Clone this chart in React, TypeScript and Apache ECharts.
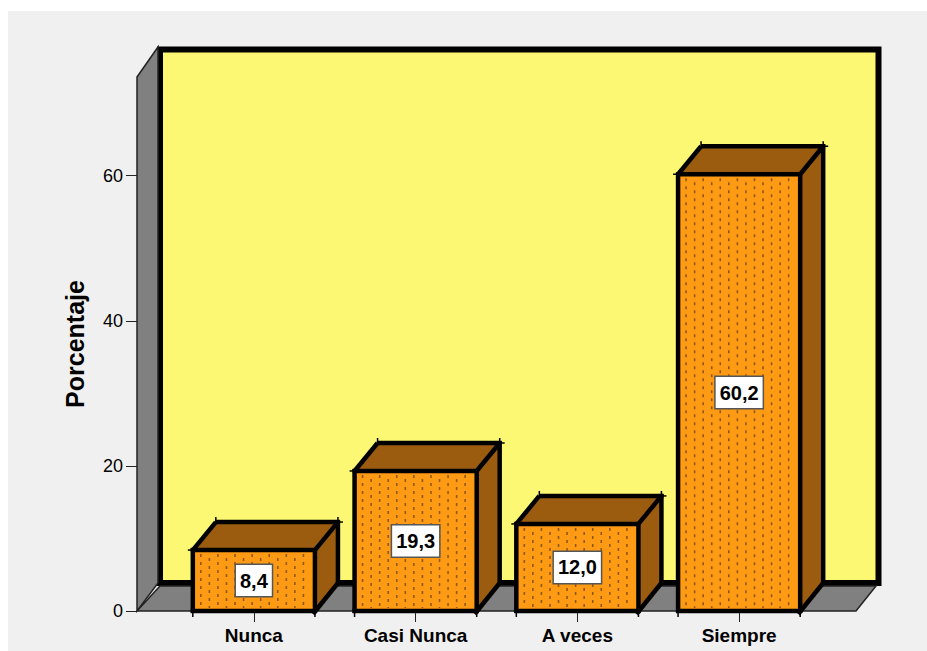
import React, { useEffect, useRef } from "react";
import * as echarts from "echarts";

const categories = ["Nunca", "Casi Nunca", "A veces", "Siempre"];
const porcentajes = [8.4, 19.3, 12.0, 60.2];
const yTicks = [0, 20, 40, 60];
const yAxisTitle = "Porcentaje";

const INK = "#000000";
const ORANGE = "#ff9a14";
const BROWN = "#9b5c10";
const DOT = "#8f5a14";
const YELLOW = "#fdf873";
const WALL = "#808080";
const PANEL = "#f0f0f0";
const DEPTH_X = 23;
const DEPTH_Y = -28;

function renderBar(_params: any, api: any) {
  const idx = api.value(0);
  const val = api.value(1);
  const [cx, yTop] = api.coord([idx, val]);
  const [, yBase] = api.coord([idx, 0]);
  const w = api.size([1, 0])[0] * 0.755;
  const x0 = cx - w / 2;
  const x1 = cx + w / 2;
  const dx = DEPTH_X;
  const dy = DEPTH_Y;
  const children: any[] = [
    { type: "rect", shape: { x: x0, y: yTop, width: w, height: yBase - yTop }, style: { fill: ORANGE } },
    { type: "polygon", shape: { points: [[x0, yTop], [x0 + dx, yTop + dy], [x1 + dx, yTop + dy], [x1, yTop]] }, style: { fill: BROWN } },
    { type: "polygon", shape: { points: [[x1, yTop], [x1 + dx, yTop + dy], [x1 + dx, yBase + dy], [x1, yBase]] }, style: { fill: BROWN } },
  ];
  // stippled texture: staggered columns of short dashes
  let col = 0;
  for (let x = x0 + 8; x < x1 - 3; x += 8.55) {
    children.push({
      type: "line",
      shape: { x1: x, y1: yTop + 4 + (col % 2 ? 4 : 0), x2: x, y2: yBase - 3 },
      style: { stroke: DOT, lineWidth: 1.6, lineDash: [3, 5] },
    });
    col++;
  }
  const edges: number[][] = [
    [x0, yTop - 2, x0, yBase + 2],
    [x1, yTop, x1, yBase + 2],
    [x0 - 2, yBase, x1 + 2, yBase],
    [x0 - 2, yTop, x1, yTop],
    [x0, yTop, x0 + dx, yTop + dy],
    [x1, yTop, x1 + dx, yTop + dy],
    [x0 + dx, yTop + dy, x1 + dx + 2, yTop + dy],
    [x1 + dx, yTop + dy - 2, x1 + dx, yBase + dy + 1],
    [x1 - 2, yBase + 3, x1 + dx, yBase + dy],
  ];
  edges.forEach(([a, b, c, d]) =>
    children.push({ type: "line", shape: { x1: a, y1: b, x2: c, y2: d }, style: { stroke: INK, lineWidth: 4.5 } })
  );
  // thin spikes where the outline's edges overshoot their corners
  const spikes: number[][] = [
    [x0, yBase, x0, yBase + 6],
    [x1, yBase, x1, yBase + 6],
    [x0 + dx, yTop + dy, x0 + dx, yTop + dy - 5],
    [x1 + dx, yTop + dy, x1 + dx, yTop + dy - 5],
    [x1 + dx, yTop + dy, x1 + dx + 5, yTop + dy],
    [x0, yTop, x0 - 5, yTop],
  ];
  spikes.forEach(([a, b, c, d]) =>
    children.push({ type: "line", shape: { x1: a, y1: b, x2: c, y2: d }, style: { stroke: INK, lineWidth: 1.5 } })
  );
  children.push({
    type: "text",
    style: {
      x: cx,
      y: (yTop + yBase) / 2,
      text: val.toFixed(1).replace(".", ","),
      align: "center",
      verticalAlign: "middle",
      fill: INK,
      font: 'bold 20px "Liberation Sans", Arial, sans-serif',
      backgroundColor: "#ffffff",
      borderColor: "#555555",
      borderWidth: 1.5,
      padding: [6, 4, 5, 4],
    },
  });
  return { type: "group", children };
}

export default function App() {
  const ref = useRef<HTMLDivElement>(null);
  useEffect(() => {
    document.body.style.margin = "0";
    const chart = echarts.init(ref.current!, undefined, { renderer: "svg" });
    chart.setOption({
      animation: false,
      backgroundColor: "#ffffff",
      grid: { left: 173, right: 107, top: 77, bottom: 40 },
      graphic: [
        { type: "rect", z: -10, shape: { x: 8, y: 11, width: 919, height: 640 }, style: { fill: PANEL } },
        { type: "rect", z: -9, shape: { x: 160, y: 49.5, width: 718.5, height: 533.5 }, style: { fill: YELLOW, stroke: INK, lineWidth: 6 } },
        { type: "polygon", z: -8, shape: { points: [[137, 77], [158, 47], [158, 583], [137, 611]] }, style: { fill: WALL, stroke: "#222222", lineWidth: 1.5 } },
        { type: "polygon", z: -8, shape: { points: [[137, 611], [160, 586], [876, 586], [856, 611]] }, style: { fill: WALL, stroke: "#222222", lineWidth: 1.5 } },
      ],
      xAxis: {
        type: "category",
        data: categories,
        axisLine: { show: false },
        axisTick: { show: true, alignWithLabel: true, length: 11, lineStyle: { color: "#222222", width: 1 } },
        axisLabel: { margin: 15, color: INK, fontFamily: "Liberation Sans", fontWeight: "bold", fontSize: 19, interval: 0 },
      },
      yAxis: {
        type: "value",
        min: 0,
        max: 73.6,
        interval: 20,
        offset: 36,
        splitLine: { show: false },
        axisLine: { show: false },
        axisTick: { show: true, length: 11, customValues: yTicks, lineStyle: { color: "#222222", width: 1 } },
        axisLabel: { margin: 14, color: INK, fontFamily: "Liberation Sans", fontSize: 18, customValues: yTicks },
        name: yAxisTitle,
        nameLocation: "middle",
        nameGap: 50,
        nameTextStyle: { color: INK, fontFamily: "Liberation Sans", fontWeight: "bold", fontSize: 25 },
      },
      series: [
        {
          type: "custom",
          coordinateSystem: "cartesian2d",
          renderItem: renderBar,
          encode: { x: 0, y: 1 },
          data: porcentajes.map((v, i) => [i, v]),
          clip: false,
        },
      ],
    });
    return () => chart.dispose();
  }, []);
  return <div ref={ref} style={{ position: "fixed", left: 0, top: 0, width: 927, height: 651 }} />;
}
